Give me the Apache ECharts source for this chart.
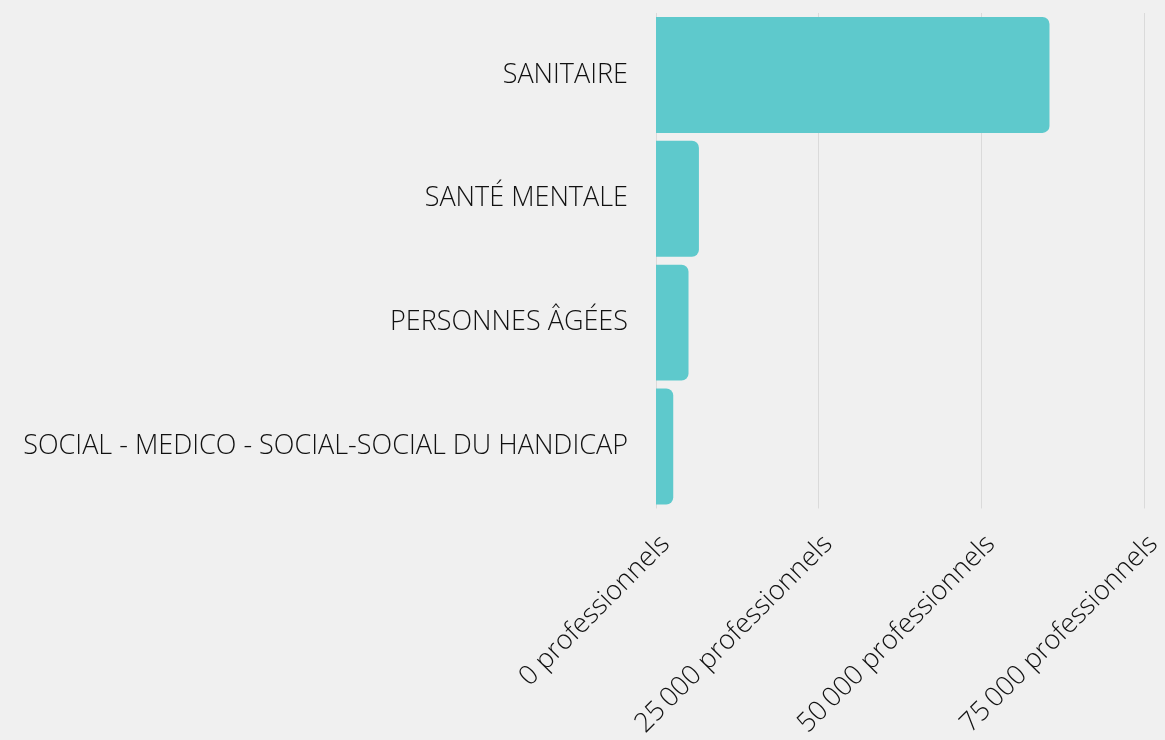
<!DOCTYPE html>
<html>
<head>
<meta charset="utf-8">
<script src="https://cdn.jsdelivr.net/npm/echarts@6/dist/echarts.min.js"></script>
<style>
  html, body { margin: 0; padding: 0; background: #f0f0f0; }
  #chart { width: 1165px; height: 740px; }
</style>
</head>
<body>
<div id="chart"></div>
<script>
// categories, top to bottom
const categories = [
  "SANITAIRE",
  "SANTÉ MENTALE",
  "PERSONNES ÂGÉES",
  "SOCIAL - MEDICO - SOCIAL-SOCIAL DU HANDICAP",
];
const professionnels = [60500, 6600, 5000, 2650];
const xTicks = [0, 25000, 50000, 75000];

function fmt(v) {
  // thousands separated by a thin space, like the original
  return String(v).replace(/\B(?=(\d{3})+(?!\d))/g, "\u2009") + " professionnels";
}

const chart = echarts.init(document.getElementById("chart"));

chart.setOption({
  backgroundColor: "#f0f0f0",
  textStyle: { fontFamily: "Open Sans", fontWeight: 300 },
  grid: { left: 656, right: 18, top: 13, bottom: 225, containLabel: false },
  xAxis: {
    type: "value",
    min: xTicks[0],
    max: xTicks[xTicks.length - 1],
    interval: 25000,
    axisLine: { show: false },
    axisTick: { show: false },
    splitLine: { show: true, lineStyle: { color: "#dadada", width: 1 } },
    axisLabel: {
      rotate: 45,
      margin: 22,
      verticalAlign: "top",
      fontSize: 27,
      fontFamily: "Open Sans",
      fontWeight: 300,
      color: "#111",
      formatter: fmt,
    },
  },
  yAxis: {
    type: "category",
    data: categories,
    inverse: true,
    axisLine: { show: false },
    axisTick: { show: false },
    axisLabel: {
      margin: 28,
      fontSize: 27,
      fontFamily: "Open Sans",
      fontWeight: 300,
      color: "#111",
    },
  },
  series: [
    {
      type: "bar",
      data: professionnels,
      barCategoryGap: "6.4%",
      itemStyle: { color: "#5ec9cc", borderRadius: [0, 7, 7, 0] },
      silent: true,
    },
  ],
});
</script>
</body>
</html>
